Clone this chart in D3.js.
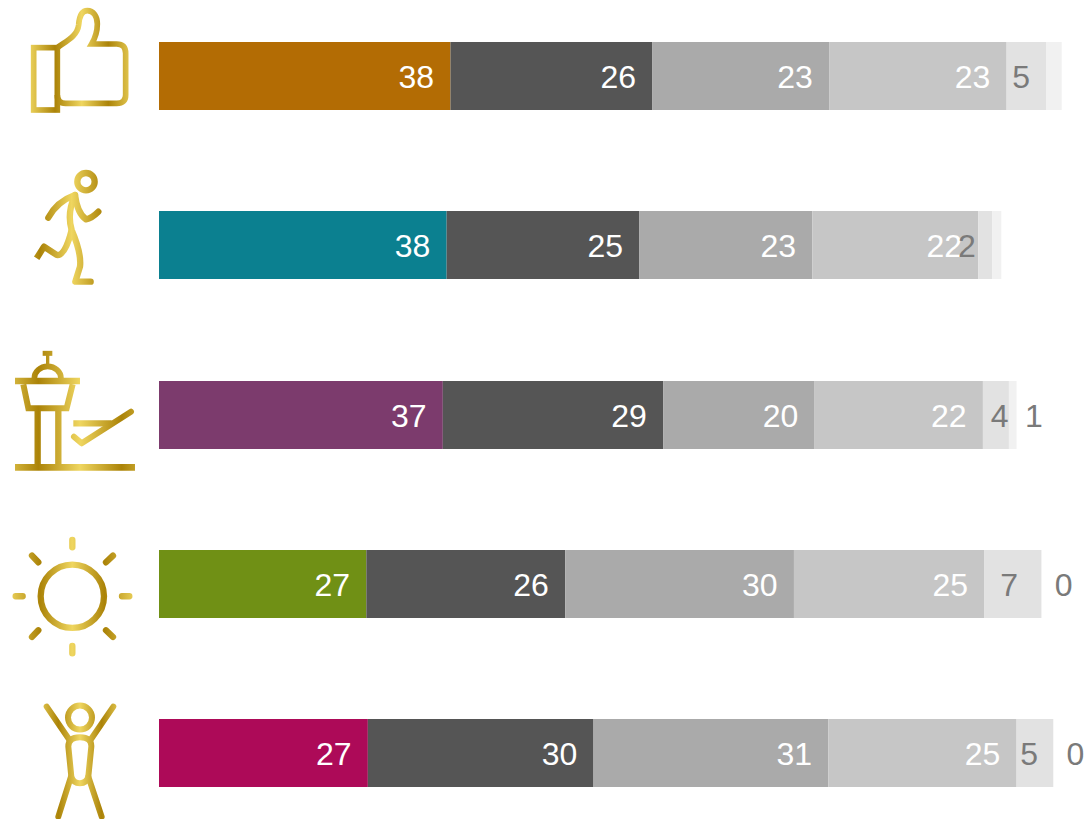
<!DOCTYPE html>
<html><head><meta charset="utf-8">
<script src="https://cdn.jsdelivr.net/npm/d3@7/dist/d3.min.js"></script>
<style>html,body{margin:0;padding:0;background:#fff}svg{display:block}text{font-family:"Liberation Sans",Arial,sans-serif}</style>
</head><body><div id="chart"></div>
<script>
const rows = ["Recommend","Active","Airport","Weather","Happy"];
const firstColors = ["#B36C04","#0B8090","#7C3B6D","#709015","#AD0A58"];
const restColors = ["#555555","#AAAAAA","#C6C6C6","#E2E2E2","#F1F1F1"];
const seriesA = [38.1,37.6,37.1,27.1,27.3];
const seriesB = [26.4,25.2,28.8,26.0,29.5];
const seriesC = [23.1,22.6,19.8,29.9,30.7];
const seriesD = [23.2,21.7,22.0,24.9,24.6];
const seriesE = [5.2,1.8,3.4,7.45,4.8];
const seriesF = [2.0,1.2,1.0,0,0];
const labelsA = ["38","38","37","27","27"];
const labelsB = ["26","25","29","26","30"];
const labelsC = ["23","23","20","30","31"];
const labelsD = ["23","22","22","25","25"];
const labelsE = ["5","2","4","7","5"];
const labelsF = [null,null,"1","0","0"];

const W = 1090, H = 819;
const svg = d3.select("#chart").append("svg").attr("width",W).attr("height",H);
const x = d3.scaleLinear().domain([0,100]).range([159,924]);
const y = d3.scaleBand().domain(rows).range([42,787+(169.25-68)]);
const barH = 68;
const allSeries = [seriesA,seriesB,seriesC,seriesD,seriesE,seriesF];
const allLabels = [labelsA,labelsB,labelsC,labelsD,labelsE,labelsF];
// label placement in px: the small light segments were nudged by hand in the original
const smallNudge = [0,0,16,-7,1];
const lastNudge = [0,0,3,0,0];

rows.forEach((r,ri)=>{
  const g = svg.append("g");
  const rowY = Math.round(y(r));
  let cum = 0;
  const segs = allSeries.map((s,si)=>{
    const d = {start:cum,end:cum+s[ri],si,label:allLabels[si][ri]};
    cum += s[ri]; return d;
  });
  g.selectAll("rect").data(segs).join("rect")
    .attr("x",d=>x(d.start)).attr("y",rowY)
    .attr("width",d=>x(d.end)-x(d.start)).attr("height",barH)
    .attr("fill",d=>d.si===0?firstColors[ri]:restColors[d.si-1]);
  g.append("g").selectAll("text").data(segs.filter(d=>d.label!==null)).join("text")
    .attr("x",d=>d.si===5?x(d.start)+31+lastNudge[ri]:x(d.end)-16.3+(d.si===4?smallNudge[ri]:0))
    .attr("y",rowY+46).attr("text-anchor","end").attr("font-size",32)
    .attr("fill",d=>d.si>=4?"#7A7A7A":"#FFFFFF")
    .text(d=>d.label);
});

// decorative gold icons (coordinates in 3x space)
const defs = svg.append("defs");
function gold(id,x1,x2){
  const gr = defs.append("linearGradient").attr("id",id).attr("gradientUnits","userSpaceOnUse")
    .attr("x1",x1).attr("x2",x2).attr("y1",0).attr("y2",0).attr("spreadMethod","reflect");
  gr.append("stop").attr("offset","0").attr("stop-color","#AB8308");
  gr.append("stop").attr("offset","1").attr("stop-color","#EFD660");
}
gold("g1",165,245); gold("g2",120,215); gold("g3",115,240); gold("g4",120,217); gold("g5",175,240);
const icon = (grad,sw)=>svg.append("g").attr("transform","scale(0.3333)")
  .attr("fill","none").attr("stroke",`url(#${grad})`).attr("stroke-width",sw);

const i1 = icon("g1",17);
i1.append("rect").attr("x",101).attr("y",143).attr("width",71).attr("height",187);
i1.append("path").attr("d","M172,143 C195,125 232,110 236,75 C238,45 248,32 262,32 C280,32 292,48 292,72 C292,100 285,115 275,132 H350 Q377,132 377,160 V285 Q377,310 350,310 H197 Q172,310 172,285");

const i2 = icon("g2",19).attr("stroke-linecap","round").attr("stroke-linejoin","round");
i2.append("circle").attr("cx",258).attr("cy",545).attr("r",26);
i2.append("path").attr("d","M145,653 Q170,605 225,585 Q232,640 258,658 Q275,655 295,635");
i2.append("path").attr("d","M225,585 Q200,640 215,690 Q245,760 240,800 L226,845 H272");
i2.append("path").attr("stroke-linecap","butt").attr("d","M215,690 Q195,770 170,765 L132,740 L110,775");

const i3 = svg.append("g").attr("transform","translate(0,340) scale(0.3333)").attr("fill","none").attr("stroke","url(#g3)").attr("stroke-width",18);
i3.append("path").attr("stroke-width",15).attr("d","M128,40 H157");
i3.append("path").attr("stroke-width",10).attr("d","M143,45 V78");
i3.append("path").attr("stroke-width",17).attr("d","M103,115 A40,36 0 0 1 183,115");
i3.append("path").attr("stroke-width",20).attr("d","M45,123 H240");
i3.append("path").attr("stroke-width",18).attr("d","M70,133 L85,205 H200 L218,133");
i3.append("path").attr("stroke-width",19).attr("d","M113,205 V380 M175,205 V380");
i3.append("path").attr("stroke-width",20).attr("d","M45,382 H405");
i3.append("path").attr("stroke-width",19).attr("d","M220,250 H335");
i3.append("path").attr("stroke-width",18).attr("stroke-linecap","round").attr("stroke-linejoin","round").attr("d","M393,215 L245,310 L222,290");

const i4 = icon("g4",19);
i4.append("circle").attr("cx",217).attr("cy",1789).attr("r",95);
i4.append("path").attr("stroke-linecap","round").attr("d","M217,1620 V1642 M217,1938 V1960 M47,1789 H68 M366,1789 H388 M96,1667 L115,1687 M339,1667 L318,1687 M96,1911 L115,1891 M339,1911 L318,1891");

const i5 = icon("g5",18).attr("stroke-linecap","round");
i5.append("circle").attr("cx",240).attr("cy",2153).attr("r",36);
i5.append("path").attr("d","M140,2120 L207,2218 M340,2120 L273,2218");
i5.append("path").attr("d","M214,2330 L205,2240 Q205,2212 240,2212 Q275,2212 274,2240 L265,2330 Q260,2350 240,2350 Q220,2350 214,2330");
i5.append("path").attr("d","M213,2330 L175,2450 M265,2330 L305,2450");
</script></body></html>
